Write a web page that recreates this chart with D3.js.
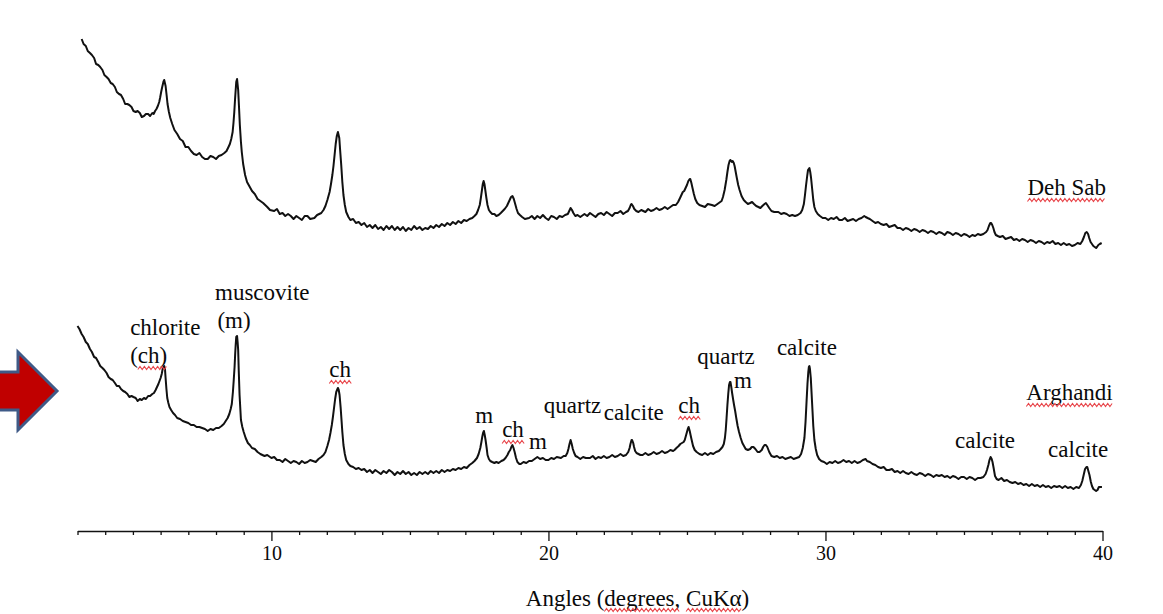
<!DOCTYPE html>
<html>
<head>
<meta charset="utf-8">
<script src="https://cdn.jsdelivr.net/npm/d3@7"></script>
<style>
  body { margin: 0; background: #fff; }
  svg { display: block; }
  text { font-family: "Liberation Serif", "Times New Roman", serif; fill: #0a0a0a; }
</style>
</head>
<body>
<svg id="chart" width="1163" height="614"></svg>
<script>
// XRD patterns, [2theta (deg), intensity (arb. units)]
var dehSab = [[3.15,493],[3.22,488],[3.3,486],[3.37,481],[3.45,479],[3.52,477],[3.6,474],[3.67,468],[3.75,467],[3.82,465],[3.9,462],[3.97,457],[4.05,455],[4.12,453],[4.2,449],[4.27,448],[4.35,445],[4.42,440],[4.5,438],[4.57,437],[4.65,433],[4.72,428],[4.8,428],[4.87,427],[4.95,425],[5.02,421],[5.1,420],[5.17,421],[5.25,419],[5.32,415],[5.4,416],[5.47,418],[5.55,418],[5.62,416],[5.7,419],[5.75,418],[5.8,421],[5.85,423],[5.9,426],[5.95,430],[5.98,434],[6.02,440],[6.05,444],[6.1,450],[6.13,452],[6.18,446],[6.22,436],[6.25,428],[6.3,420],[6.35,414],[6.42,408],[6.5,402],[6.6,398],[6.7,393],[6.8,391],[6.9,385],[7.0,385],[7.1,381],[7.2,378],[7.3,377],[7.4,379],[7.5,375],[7.6,373],[7.7,373],[7.8,376],[7.9,375],[8.0,373],[8.1,376],[8.2,377],[8.3,379],[8.38,381],[8.45,385],[8.5,388],[8.55,393],[8.6,400],[8.63,409],[8.66,420],[8.69,434],[8.73,450],[8.76,453],[8.8,442],[8.83,425],[8.86,407],[8.9,390],[8.93,380],[8.98,368],[9.05,357],[9.12,350],[9.2,346],[9.3,341],[9.4,338],[9.5,333],[9.6,331],[9.7,329],[9.85,325],[9.95,322],[10.1,321],[10.2,323],[10.3,318],[10.4,319],[10.5,316],[10.6,318],[10.7,316],[10.8,313],[10.9,316],[11.0,314],[11.1,312],[11.2,316],[11.3,316],[11.4,313],[11.55,314],[11.65,317],[11.8,319],[11.88,322],[11.95,326],[12.02,332],[12.1,340],[12.15,348],[12.2,357],[12.24,366],[12.28,377],[12.32,388],[12.36,396],[12.4,400],[12.45,394],[12.48,382],[12.52,367],[12.56,350],[12.6,337],[12.65,327],[12.7,320],[12.78,315],[12.85,312],[12.95,313],[13.05,309],[13.15,310],[13.25,307],[13.35,309],[13.45,305],[13.55,307],[13.65,304],[13.75,307],[13.85,303],[13.95,305],[14.05,302],[14.15,306],[14.25,303],[14.35,306],[14.45,302],[14.55,305],[14.65,302],[14.75,305],[14.85,301],[14.95,304],[15.05,302],[15.15,306],[15.25,303],[15.35,305],[15.45,302],[15.55,304],[15.65,303],[15.75,306],[15.85,304],[15.95,307],[16.05,305],[16.15,308],[16.25,306],[16.35,309],[16.45,307],[16.55,310],[16.65,308],[16.75,311],[16.85,309],[16.95,312],[17.05,311],[17.15,313],[17.25,314],[17.33,316],[17.4,318],[17.46,322],[17.52,327],[17.56,334],[17.6,342],[17.63,348],[17.66,351],[17.69,348],[17.72,342],[17.76,334],[17.8,327],[17.85,322],[17.9,320],[17.97,318],[18.05,318],[18.12,316],[18.2,317],[18.28,319],[18.35,321],[18.42,323],[18.5,326],[18.55,329],[18.6,332],[18.65,335],[18.7,336],[18.75,333],[18.8,328],[18.85,323],[18.9,319],[18.97,317],[19.05,315],[19.15,313],[19.3,314],[19.4,316],[19.5,313],[19.6,316],[19.7,314],[19.8,317],[19.9,314],[20.0,312],[20.1,316],[20.2,315],[20.3,313],[20.4,316],[20.5,315],[20.6,317],[20.7,318],[20.75,321],[20.8,324],[20.85,322],[20.9,319],[20.97,316],[21.05,317],[21.15,315],[21.3,318],[21.4,316],[21.5,319],[21.6,317],[21.7,315],[21.8,318],[21.9,319],[22.0,317],[22.1,320],[22.2,318],[22.3,316],[22.4,319],[22.5,319],[22.6,321],[22.7,318],[22.8,320],[22.87,321],[22.93,324],[22.97,327],[23.0,328],[23.05,326],[23.1,323],[23.17,321],[23.25,320],[23.35,322],[23.5,320],[23.6,323],[23.7,321],[23.8,322],[23.9,324],[24.0,322],[24.1,323],[24.2,325],[24.3,323],[24.4,325],[24.5,327],[24.6,327],[24.68,330],[24.75,334],[24.8,337],[24.85,340],[24.9,341],[24.95,344],[25.0,347],[25.05,351],[25.1,353],[25.12,353],[25.16,349],[25.2,344],[25.25,338],[25.3,333],[25.37,329],[25.45,327],[25.55,326],[25.65,325],[25.75,328],[25.9,327],[26.0,326],[26.15,329],[26.25,331],[26.3,335],[26.36,342],[26.42,352],[26.46,360],[26.5,367],[26.54,371],[26.57,372],[26.62,370],[26.65,371],[26.69,369],[26.72,366],[26.76,360],[26.8,354],[26.85,347],[26.9,342],[26.97,336],[27.05,332],[27.12,330],[27.2,328],[27.28,329],[27.35,330],[27.42,328],[27.5,326],[27.58,325],[27.65,324],[27.72,326],[27.8,328],[27.85,329],[27.9,327],[27.97,324],[28.05,321],[28.15,320],[28.3,320],[28.4,318],[28.5,319],[28.6,318],[28.7,316],[28.8,317],[28.9,316],[29.0,317],[29.1,319],[29.16,322],[29.22,328],[29.26,337],[29.3,347],[29.34,356],[29.37,362],[29.42,364],[29.45,360],[29.48,354],[29.52,343],[29.56,332],[29.6,325],[29.65,321],[29.72,318],[29.8,316],[29.9,314],[30.0,314],[30.1,312],[30.2,314],[30.3,313],[30.4,315],[30.5,312],[30.6,312],[30.7,314],[30.8,311],[30.9,312],[31.0,313],[31.1,311],[31.2,313],[31.3,314],[31.4,316],[31.45,315],[31.52,314],[31.6,313],[31.7,311],[31.8,309],[31.9,310],[32.0,308],[32.1,307],[32.2,308],[32.3,305],[32.4,306],[32.5,307],[32.6,304],[32.7,304],[32.8,302],[32.9,304],[33.0,303],[33.1,301],[33.2,303],[33.3,302],[33.4,300],[33.5,302],[33.6,301],[33.7,299],[33.8,301],[33.9,300],[34.0,298],[34.1,300],[34.2,299],[34.3,297],[34.4,300],[34.5,299],[34.6,297],[34.7,299],[34.8,298],[34.9,296],[35.0,298],[35.1,297],[35.2,295],[35.3,297],[35.4,296],[35.5,298],[35.6,297],[35.7,298],[35.8,300],[35.85,302],[35.9,306],[35.95,309],[35.98,309],[36.02,307],[36.06,304],[36.1,300],[36.15,297],[36.22,296],[36.3,295],[36.4,296],[36.5,293],[36.6,294],[36.7,295],[36.8,292],[36.9,293],[37.0,291],[37.1,293],[37.2,292],[37.3,290],[37.4,292],[37.5,291],[37.6,289],[37.7,291],[37.8,290],[37.9,288],[38.0,290],[38.1,289],[38.2,291],[38.3,288],[38.4,289],[38.5,287],[38.6,289],[38.7,287],[38.8,288],[38.9,286],[39.0,287],[39.1,289],[39.2,288],[39.27,291],[39.33,295],[39.38,299],[39.43,300],[39.48,298],[39.52,294],[39.57,290],[39.62,288],[39.67,286],[39.72,285],[39.77,284],[39.8,285],[39.85,287],[39.9,288],[39.97,289]];

var arghandi = [[3.0,206],[3.07,203],[3.15,198],[3.22,195],[3.3,190],[3.37,188],[3.45,183],[3.52,180],[3.6,175],[3.67,174],[3.75,170],[3.82,166],[3.9,164],[3.97,162],[4.05,159],[4.12,155],[4.2,153],[4.27,152],[4.35,149],[4.42,146],[4.5,146],[4.57,143],[4.65,141],[4.72,140],[4.8,138],[4.87,135],[4.95,136],[5.02,135],[5.1,134],[5.17,131],[5.25,133],[5.32,132],[5.4,134],[5.47,133],[5.55,136],[5.62,136],[5.7,138],[5.76,139],[5.82,142],[5.87,145],[5.92,148],[5.96,151],[6.0,154],[6.04,158],[6.08,164],[6.13,166],[6.16,162],[6.18,154],[6.21,143],[6.24,134],[6.28,129],[6.32,125],[6.38,122],[6.45,119],[6.52,117],[6.6,114],[6.7,113],[6.8,111],[6.9,110],[7.0,109],[7.1,107],[7.2,107],[7.3,105],[7.4,105],[7.5,104],[7.6,103],[7.7,101],[7.8,103],[7.9,102],[8.0,104],[8.1,104],[8.2,106],[8.28,108],[8.35,111],[8.42,114],[8.48,118],[8.53,123],[8.57,128],[8.61,140],[8.64,152],[8.67,165],[8.69,177],[8.71,187],[8.73,195],[8.76,196],[8.78,190],[8.8,182],[8.82,162],[8.85,137],[8.88,122],[8.9,112],[8.95,105],[9.0,100],[9.07,94],[9.15,89],[9.22,87],[9.3,84],[9.4,83],[9.5,80],[9.6,78],[9.75,76],[9.85,77],[10.0,74],[10.1,75],[10.2,72],[10.3,72],[10.4,70],[10.5,73],[10.6,71],[10.7,69],[10.8,71],[10.9,70],[11.0,68],[11.1,71],[11.2,69],[11.3,70],[11.4,72],[11.5,71],[11.6,70],[11.7,73],[11.8,75],[11.88,77],[11.95,80],[12.02,86],[12.08,92],[12.13,99],[12.18,107],[12.22,115],[12.26,124],[12.3,133],[12.34,140],[12.4,144],[12.43,142],[12.46,137],[12.5,124],[12.53,112],[12.56,100],[12.6,87],[12.65,78],[12.7,72],[12.78,68],[12.85,66],[12.95,65],[13.05,63],[13.15,64],[13.25,62],[13.35,63],[13.45,60],[13.55,62],[13.65,59],[13.75,62],[13.85,60],[13.95,58],[14.05,61],[14.15,59],[14.25,62],[14.35,60],[14.45,57],[14.55,60],[14.65,58],[14.75,61],[14.85,58],[14.95,60],[15.05,57],[15.15,59],[15.25,57],[15.35,60],[15.45,58],[15.55,60],[15.65,58],[15.75,61],[15.85,59],[15.95,61],[16.05,59],[16.15,62],[16.25,60],[16.35,62],[16.45,61],[16.55,63],[16.65,62],[16.75,64],[16.85,63],[16.95,65],[17.05,64],[17.15,67],[17.25,69],[17.33,71],[17.42,74],[17.48,78],[17.54,84],[17.58,90],[17.61,95],[17.64,99],[17.67,101],[17.7,97],[17.73,92],[17.77,84],[17.8,77],[17.85,73],[17.9,71],[17.97,70],[18.05,69],[18.12,70],[18.2,69],[18.3,71],[18.38,72],[18.45,74],[18.52,77],[18.57,80],[18.62,82],[18.66,85],[18.7,87],[18.74,84],[18.78,80],[18.83,74],[18.88,70],[18.95,68],[19.0,68],[19.1,70],[19.2,69],[19.3,71],[19.4,71],[19.5,73],[19.6,75],[19.7,73],[19.8,74],[19.9,72],[20.0,72],[20.1,74],[20.2,73],[20.3,75],[20.45,74],[20.55,76],[20.62,76],[20.68,79],[20.72,83],[20.76,88],[20.8,92],[20.84,88],[20.88,83],[20.93,79],[20.98,76],[21.05,75],[21.15,73],[21.25,75],[21.35,74],[21.5,74],[21.6,76],[21.7,73],[21.8,75],[21.9,74],[22.0,76],[22.1,74],[22.2,75],[22.3,77],[22.4,75],[22.5,76],[22.6,78],[22.7,76],[22.8,77],[22.88,80],[22.93,84],[22.96,88],[23.0,92],[23.02,92],[23.06,89],[23.09,85],[23.13,81],[23.18,79],[23.25,78],[23.32,77],[23.4,77],[23.5,79],[23.6,77],[23.7,78],[23.8,80],[23.9,78],[24.0,79],[24.1,81],[24.2,79],[24.3,80],[24.4,82],[24.5,81],[24.55,82],[24.62,84],[24.7,86],[24.76,88],[24.82,89],[24.88,90],[24.92,92],[24.96,96],[25.0,100],[25.03,103],[25.06,105],[25.1,101],[25.13,97],[25.17,92],[25.22,86],[25.28,82],[25.35,80],[25.45,78],[25.55,77],[25.65,79],[25.75,77],[25.85,79],[25.95,78],[26.05,80],[26.15,81],[26.22,83],[26.28,85],[26.33,88],[26.37,94],[26.4,102],[26.43,114],[26.46,127],[26.49,138],[26.52,147],[26.55,150],[26.57,150],[26.6,145],[26.63,139],[26.67,132],[26.7,127],[26.74,121],[26.78,114],[26.83,106],[26.88,100],[26.94,94],[27.0,89],[27.06,86],[27.12,83],[27.2,82],[27.28,83],[27.34,85],[27.4,85],[27.47,83],[27.55,80],[27.62,80],[27.7,82],[27.75,85],[27.8,87],[27.85,87],[27.9,85],[27.97,80],[28.05,76],[28.15,75],[28.25,76],[28.35,74],[28.45,75],[28.55,73],[28.65,74],[28.75,75],[28.85,73],[28.95,74],[29.05,75],[29.12,78],[29.18,84],[29.24,94],[29.28,110],[29.32,132],[29.35,148],[29.38,160],[29.4,165],[29.42,166],[29.44,163],[29.47,154],[29.5,138],[29.53,122],[29.56,106],[29.6,92],[29.65,83],[29.7,77],[29.77,73],[29.85,71],[29.95,70],[30.05,68],[30.15,70],[30.25,69],[30.35,71],[30.45,69],[30.55,70],[30.65,72],[30.75,70],[30.85,71],[30.95,69],[31.05,71],[31.15,69],[31.25,70],[31.35,72],[31.45,73],[31.5,71],[31.6,70],[31.7,68],[31.8,67],[31.9,65],[32.0,64],[32.1,65],[32.2,62],[32.3,62],[32.4,63],[32.5,60],[32.6,61],[32.7,59],[32.8,61],[32.9,59],[33.0,58],[33.1,60],[33.2,58],[33.3,57],[33.4,59],[33.5,58],[33.6,56],[33.7,58],[33.8,57],[33.9,55],[34.0,57],[34.1,56],[34.2,57],[34.3,55],[34.4,56],[34.5,54],[34.6,56],[34.7,55],[34.8,53],[34.9,55],[35.0,55],[35.1,53],[35.2,55],[35.3,54],[35.4,52],[35.5,54],[35.6,54],[35.7,55],[35.78,58],[35.83,62],[35.88,67],[35.92,72],[35.96,75],[36.0,73],[36.03,70],[36.07,64],[36.12,56],[36.18,53],[36.25,52],[36.35,54],[36.45,51],[36.55,52],[36.65,50],[36.75,49],[36.85,50],[36.95,48],[37.05,49],[37.15,47],[37.25,48],[37.35,46],[37.45,48],[37.55,46],[37.65,47],[37.75,45],[37.85,47],[37.95,45],[38.05,46],[38.15,44],[38.25,46],[38.35,45],[38.45,46],[38.55,44],[38.65,46],[38.75,44],[38.85,45],[38.95,43],[39.05,45],[39.15,44],[39.22,47],[39.27,51],[39.32,57],[39.37,63],[39.42,65],[39.45,65],[39.49,61],[39.53,57],[39.58,50],[39.62,46],[39.67,43],[39.72,42],[39.77,41],[39.82,42],[39.87,45],[39.92,45],[39.98,45]];

// sample names: [name, angle, intensity]
var sampleNames = [['Deh Sab', 38.71, 337], ['Arghandi', 38.81, 132]];

// mineral labels: [text, angle, intensity]
var peakLabels = [
  ['chlorite', 4.9, 197], ['(ch)', 4.9, 169],
  ['muscovite', 9.67, 232], ['(m)', 8.65, 204],
  ['ch', 12.48, 155], ['m', 17.68, 109], ['ch', 18.72, 95], ['m', 19.62, 83],
  ['quartz', 20.87, 119], ['calcite', 23.08, 112], ['ch', 25.08, 119],
  ['quartz', 26.41, 168], ['m', 27.02, 144], ['calcite', 29.33, 177],
  ['calcite', 35.76, 84], ['calcite', 39.12, 75]
];

var xDomain = [3, 40];
var majorTicks = [10, 20, 30, 40];
var xTitle = 'Angles (degrees, CuK\u03b1)';

// words that the editor flagged with a red wavy underline
var flagged = ['(ch)', 'ch', 'Deh Sab', 'Arghandi'];

var svg = d3.select('#chart');
var x = d3.scaleLinear().domain(xDomain).range([77.5, 1102.5]);
var y = d3.scaleLinear().domain([0, 500]).range([532, 32]);

function wavy(x0, x1, yy) {
  var pts = [];
  for (var px = x0, k = 0; px <= x1; px += 2.2, k++) {
    pts.push([px, yy + (k % 2 ? -1.5 : 1.5)]);
  }
  svg.append('path')
    .attr('d', d3.line()(pts))
    .attr('fill', 'none')
    .attr('stroke', '#e8454a')
    .attr('stroke-width', 1.1);
}

// red arrow on the left
svg.append('path')
  .attr('d', 'M-6,372 H18 V352 L57,391 L18,430 V410 H-6 Z')
  .attr('fill', '#c00000')
  .attr('stroke', '#3f5a87')
  .attr('stroke-width', 3)
  .attr('stroke-linejoin', 'miter');

// traces
var line = d3.line().x(function(d) { return x(d[0]); }).y(function(d) { return y(d[1]); });
[dehSab, arghandi].forEach(function(series) {
  svg.append('path')
    .datum(series)
    .attr('d', line)
    .attr('fill', 'none')
    .attr('stroke', '#111')
    .attr('stroke-width', 2)
    .attr('stroke-linejoin', 'round');
});

// axis
var axisY = 531;
var axis = d3.axisBottom(x)
  .tickValues(d3.range(3, 41))
  .tickSize(4)
  .tickSizeOuter(0)
  .tickPadding(11)
  .tickFormat(function(d) { return majorTicks.indexOf(d) >= 0 ? d : ''; });
var gx = svg.append('g').attr('transform', 'translate(0,' + axisY + ')').call(axis);
gx.select('.domain').attr('stroke', '#111').attr('stroke-width', 1.5);
gx.selectAll('.tick line').attr('stroke', '#111').attr('stroke-width', 1.3)
  .filter(function(d) { return majorTicks.indexOf(d) >= 0; })
  .attr('y2', 10);
gx.selectAll('.tick text')
  .attr('font-family', '"Liberation Serif", "Times New Roman", serif')
  .attr('font-size', 20)
  .attr('fill', '#0a0a0a');

// axis title
var title = svg.append('text')
  .attr('x', 637.5).attr('y', 606)
  .attr('text-anchor', 'middle')
  .attr('font-size', 23)
  .text(xTitle);
var tnode = title.node();
var tx0 = tnode.getBBox().x;
var iDeg = xTitle.indexOf('(degrees');
var iCu = xTitle.indexOf('CuK');
wavy(tx0 + tnode.getSubStringLength(0, iDeg + 1), tx0 + tnode.getSubStringLength(0, iCu - 1), 610);
wavy(tx0 + tnode.getSubStringLength(0, iCu), tx0 + tnode.getSubStringLength(0, xTitle.length - 1), 610);

// labels
function addLabel(d, anchor) {
  var t = svg.append('text')
    .attr('x', x(d[1])).attr('y', y(d[2]))
    .attr('text-anchor', anchor)
    .attr('font-size', 23)
    .text(d[0]);
  if (flagged.indexOf(d[0]) >= 0) {
    var b = t.node().getBBox();
    var start = d[0].charAt(0) == '(' ? t.node().getSubStringLength(0, 1) : 0;
    wavy(b.x + start, b.x + b.width, y(d[2]) + 5);
  }
}
peakLabels.forEach(function(d) {
  addLabel(d, d[0] == 'chlorite' || d[0] == '(ch)' ? 'start' : 'middle');
});
sampleNames.forEach(function(d) { addLabel(d, 'middle'); });
</script>
</body>
</html>
